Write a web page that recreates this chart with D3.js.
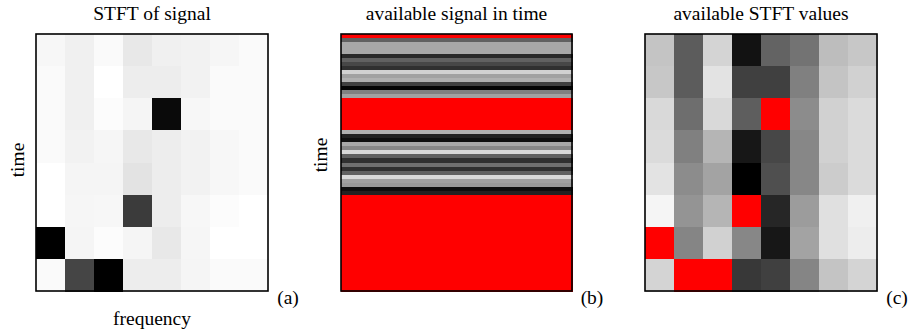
<!DOCTYPE html>
<html>
<head>
<meta charset="utf-8">
<script src="https://cdn.jsdelivr.net/npm/d3@7"></script>
<style>
  html, body { margin: 0; padding: 0; background: #fff; }
  svg text { font-family: "Liberation Serif", "DejaVu Serif", serif; fill: #000; }
</style>
</head>
<body>
<div id="chart"></div>
<script>
// ---- Data: magnitude 0 (white) .. 1 (black); null = missing (drawn red)
// STFT of signal, rows top -> bottom, columns = frequency bins
const stftFull = [
  [0.03, 0.06, 0.02, 0.09, 0.06, 0.05, 0.035, 0.02],
  [0.02, 0.06, 0.00, 0.07, 0.07, 0.05, 0.02, 0.02],
  [0.02, 0.06, 0.01, 0.04, 0.96, 0.03, 0.02, 0.02],
  [0.02, 0.05, 0.035, 0.09, 0.07, 0.05, 0.03, 0.02],
  [0.00, 0.04, 0.04, 0.11, 0.07, 0.05, 0.03, 0.02],
  [0.00, 0.035, 0.03, 0.77, 0.07, 0.03, 0.01, 0.00],
  [1.00, 0.04, 0.01, 0.04, 0.09, 0.035, 0.00, 0.00],
  [0.02, 0.73, 1.00, 0.07, 0.07, 0.04, 0.02, 0.02]
];

// available signal samples in time, top -> bottom
const signalTime = [
  null, 0.62, 0.34, 0.34, 0.34, 0.84, 0.62, 0.72,
  0.81, 0.18, 0.37, 0.31, 0.75, 0.98, 0.50, 0.37,
  null, null, null, null, null, null, null, null,
  0.31, 0.87, 0.94, 0.34, 0.47, 0.15, 0.62, 0.81,
  0.56, 0.81, 0.62, 0.15, 0.37, 0.40, 0.94, 0.87,
  null, null, null, null, null, null, null, null,
  null, null, null, null, null, null, null, null,
  null, null, null, null, null, null, null, null
];

// available STFT values
const stftAvail = [
  [0.23, 0.64, 0.17, 0.93, 0.61, 0.55, 0.26, 0.22],
  [0.22, 0.64, 0.11, 0.75, 0.75, 0.50, 0.23, 0.18],
  [0.15, 0.57, 0.15, 0.63, null, 0.45, 0.18, 0.14],
  [0.14, 0.50, 0.29, 0.91, 0.72, 0.47, 0.18, 0.14],
  [0.11, 0.45, 0.36, 1.00, 0.69, 0.47, 0.20, 0.14],
  [0.04, 0.42, 0.29, null, 0.85, 0.39, 0.12, 0.06],
  [null, 0.48, 0.18, 0.47, 0.91, 0.36, 0.12, 0.07],
  [0.17, null, null, 0.78, 0.75, 0.48, 0.23, 0.17]
];

const titles = ['STFT of signal', 'available signal in time', 'available STFT values'];
const tags = ['(a)', '(b)', '(c)'];

// ---- Layout
const W = 909, H = 336;
const plotTop = 34, plotBottom = 291;
const fontSize = '19.5px';
const panels = [
  { x0: 36, x1: 268, grid: stftFull, timeX: 24, timeY: 160, freqLabel: true },
  { x0: 341, x1: 572, grid: signalTime.map(v => [v]), timeX: 327, timeY: 155, freqLabel: false },
  { x0: 645, x1: 877, grid: stftAvail, timeX: null, timeY: null, freqLabel: false }
];

const gray = d3.scaleLinear().domain([0, 1]).range(['#ffffff', '#000000']);
const missing = '#ff0000';

const svg = d3.select('#chart').append('svg')
  .attr('width', W).attr('height', H);

panels.forEach((p, pi) => {
  const nRows = p.grid.length;
  const nCols = p.grid[0].length;
  const x = d3.scaleBand().domain(d3.range(nCols)).range([p.x0, p.x1]);
  const y = d3.scaleBand().domain(d3.range(nRows)).range([plotTop, plotBottom]);

  const cells = p.grid.flatMap((row, r) => row.map((v, c) => ({ r, c, v })));

  const g = svg.append('g');
  g.selectAll('rect.cell')
    .data(cells)
    .join('rect')
    .attr('class', 'cell')
    .attr('x', d => x(d.c))
    .attr('y', d => y(d.r))
    .attr('width', x.bandwidth() + 0.6)
    .attr('height', y.bandwidth() + 0.6)
    .attr('shape-rendering', 'crispEdges')
    .attr('fill', d => d.v === null ? missing : gray(d.v));

  // frame
  g.append('rect')
    .attr('x', p.x0).attr('y', plotTop)
    .attr('width', p.x1 - p.x0).attr('height', plotBottom - plotTop)
    .attr('fill', 'none')
    .attr('stroke', '#000')
    .attr('stroke-width', 1.6);

  const cx = (p.x0 + p.x1) / 2;

  // title
  svg.append('text')
    .attr('x', cx).attr('y', 20)
    .attr('text-anchor', 'middle')
    .style('font-size', fontSize)
    .text(titles[pi]);

  // panel tag
  svg.append('text')
    .attr('x', p.x1 + 20).attr('y', 304)
    .attr('text-anchor', 'middle')
    .style('font-size', fontSize)
    .text(tags[pi]);

  if (p.timeX !== null) {
    svg.append('text')
      .attr('transform', `translate(${p.timeX}, ${p.timeY}) rotate(-90)`)
      .attr('text-anchor', 'middle')
      .style('font-size', fontSize)
      .text('time');
  }
  if (p.freqLabel) {
    svg.append('text')
      .attr('x', cx).attr('y', 325)
      .attr('text-anchor', 'middle')
      .style('font-size', fontSize)
      .text('frequency');
  }
});
</script>
</body>
</html>
